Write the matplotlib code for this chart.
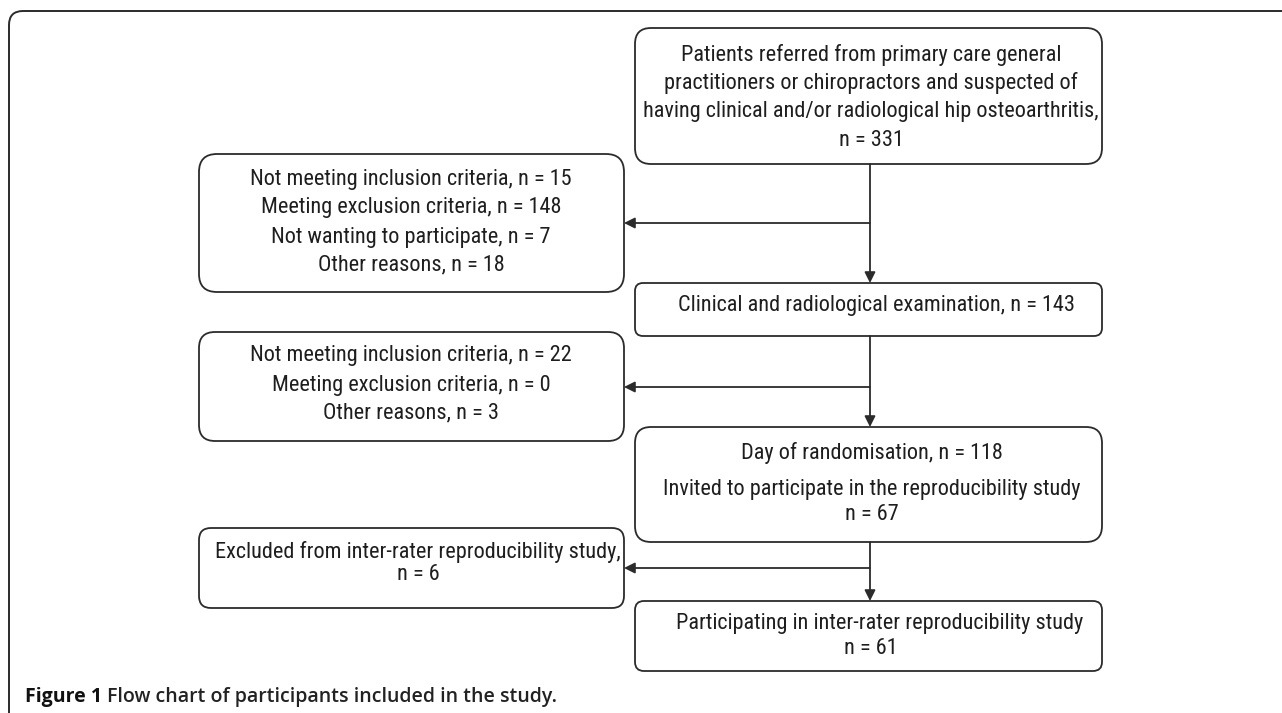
import matplotlib
matplotlib.use("Agg")
import matplotlib.pyplot as plt
from matplotlib.patches import FancyBboxPatch
from matplotlib.path import Path
from matplotlib.patches import PathPatch

# box texts (main flow, right column)
main_lines = [
    ["Patients referred from primary care general",
     "practitioners or chiropractors and suspected of",
     "having clinical and/or radiological hip osteoarthritis,",
     "n = 331"],
    ["Clinical and radiological examination, n = 143"],
    ["Day of randomisation, n = 118",
     "Invited to participate in the reproducibility study",
     "n = 67"],
    ["Participating in inter-rater reproducibility study",
     "n = 61"],
]
# excluded boxes (left column)
excl_lines = [
    ["Not meeting inclusion criteria, n = 15",
     "Meeting exclusion criteria, n = 148",
     "Not wanting to participate, n = 7",
     "Other reasons, n = 18"],
    ["Not meeting inclusion criteria, n = 22",
     "Meeting exclusion criteria, n = 0",
     "Other reasons, n = 3"],
    ["Excluded from inter-rater reproducibility study,",
     "n = 6"],
]
caption_bold = "Figure 1"
caption_rest = "Flow chart of participants included in the study."

# layout in pixel coordinates: (x0, y0, x1, y1, corner radius)
main_boxes = [(635, 28, 1102, 164, 16), (635, 283, 1102, 336, 8),
              (635, 427, 1102, 542, 16), (635, 601, 1102, 671, 9)]
excl_boxes = [(199, 154, 624, 292, 18), (199, 332, 624, 441, 16),
              (199, 528, 624, 608, 12)]
main_text_y = [[55, 83, 112, 140], [305], [453, 490, 514], [623, 648]]
main_text_x = [871, 877, [872, 872, 872], [880, 871]]
excl_text_y = [[180, 208, 237, 265], [355, 385, 413], [552, 575]]
excl_text_x = [411, 411, 418]
arrow_y = [223, 387, 568]
flow_x = 870

LINE = "#2b2b2b"
TXT = "#1e1e1e"
FONT = ["Roboto Condensed", "DejaVu Sans"]
FS = 16

fig = plt.figure(figsize=(12.82, 7.13), dpi=100)
ax = fig.add_axes([0, 0, 1, 1])
ax.set_xlim(0, 1282)
ax.set_ylim(713, 0)
ax.axis("off")

# outer frame (left + top with rounded corner)
r = 14
verts = [(9, 713), (9, 11 + r), (9, 11), (9 + r, 11), (1282, 11)]
codes = [Path.MOVETO, Path.LINETO, Path.CURVE3, Path.CURVE3, Path.LINETO]
ax.add_patch(PathPatch(Path(verts, codes), fill=False, lw=1.4, ec=LINE))

def box(x0, y0, x1, y1, rad):
    ax.add_patch(FancyBboxPatch((x0, y0), x1 - x0, y1 - y0,
                                boxstyle="round,pad=0,rounding_size=%d" % rad,
                                fc="white", ec=LINE, lw=1.3))

for b in main_boxes + excl_boxes:
    box(*b)

for lines, ys, xs in zip(main_lines, main_text_y, main_text_x):
    if not isinstance(xs, list):
        xs = [xs] * len(lines)
    for t, y, x in zip(lines, ys, xs):
        ax.text(x, y, t, ha="center", va="center", fontsize=FS,
                family=FONT, color=TXT)

for lines, ys, x in zip(excl_lines, excl_text_y, excl_text_x):
    for t, y in zip(lines, ys):
        ax.text(x, y, t, ha="center", va="center", fontsize=FS,
                family=FONT, color=TXT)

aprops = dict(arrowstyle="-|>", color=LINE, lw=1.3, shrinkA=0, shrinkB=0,
              mutation_scale=16)

# vertical flow arrows
for top, bottom in zip(main_boxes[:-1], main_boxes[1:]):
    ax.annotate("", xy=(flow_x, bottom[1]), xytext=(flow_x, top[3]),
                arrowprops=aprops)

# side arrows to exclusion boxes
for y, b in zip(arrow_y, excl_boxes):
    ax.annotate("", xy=(b[2], y), xytext=(flow_x, y), arrowprops=aprops)

# caption
cap = ax.text(25, 697, caption_bold + " ", ha="left", va="center",
              fontsize=14, fontweight="bold", family=["Open Sans"],
              color="#111111")
fig.canvas.draw()
bb = cap.get_window_extent()
x_end = ax.transData.inverted().transform((bb.x1, bb.y0))[0]
ax.text(x_end, 697, caption_rest, ha="left", va="center",
        fontsize=14, fontweight="semibold", family=["Open Sans"],
        color="#222222")

fig.savefig("out.png", dpi=100)
